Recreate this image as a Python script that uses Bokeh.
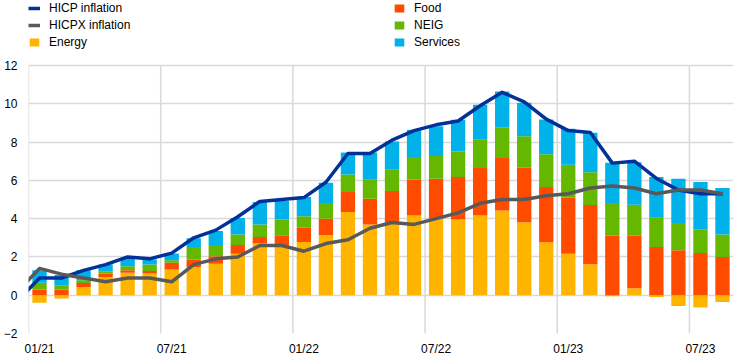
import numpy as np
from bokeh.plotting import figure
from bokeh.models import FixedTicker, Legend, LegendItem, Range1d
from bokeh.embed import file_html
from bokeh.resources import INLINE

months = ["01/21", "02/21", "03/21", "04/21", "05/21", "06/21", "07/21", "08/21",
          "09/21", "10/21", "11/21", "12/21", "01/22", "02/22", "03/22", "04/22",
          "05/22", "06/22", "07/22", "08/22", "09/22", "10/22", "11/22", "12/22",
          "01/23", "02/23", "03/23", "04/23", "05/23", "06/23", "07/23", "08/23"]
tick_labels = ["01/21", "07/21", "01/22", "07/22", "01/23", "07/23"]
y_ticks = [-2, 0, 2, 4, 6, 8, 10, 12]

energy = [-0.40, -0.17, 0.43, 0.95, 1.17, 1.13, 1.34, 1.48, 1.64, 2.17, 2.70, 2.60,
          2.78, 3.13, 4.35, 3.69, 3.83, 4.17, 4.00, 3.95, 4.17, 4.43, 3.81, 2.77,
          2.17, 1.62, -0.05, 0.37, -0.09, -0.56, -0.64, -0.35]
food = [0.30, 0.30, 0.21, 0.18, 0.13, 0.14, 0.35, 0.38, 0.40, 0.45, 0.34, 0.53,
        0.75, 0.87, 1.04, 1.35, 1.61, 1.88, 2.09, 2.22, 2.47, 2.74, 2.85, 2.88,
        2.93, 3.09, 3.10, 2.73, 2.52, 2.35, 2.21, 2.00]
neig = [0.35, 0.22, 0.14, 0.12, 0.21, 0.33, 0.14, 0.66, 0.58, 0.55, 0.65, 0.82,
        0.59, 0.82, 0.92, 0.99, 1.12, 1.17, 1.18, 1.34, 1.48, 1.61, 1.65, 1.72,
        1.72, 1.72, 1.72, 1.63, 1.53, 1.42, 1.23, 1.17]
services = [0.65, 0.53, 0.52, 0.35, 0.45, 0.27, 0.35, 0.45, 0.74, 0.87, 1.18, 0.97,
            1.01, 1.06, 1.15, 1.43, 1.47, 1.42, 1.56, 1.66, 1.83, 1.86, 1.74, 1.81,
            1.88, 2.06, 2.10, 2.21, 2.12, 2.32, 2.47, 2.43]
hicp = [0.9, 0.9, 1.3, 1.6, 2.0, 1.9, 2.2, 3.0, 3.4, 4.1, 4.9, 5.0,
        5.1, 5.9, 7.4, 7.4, 8.1, 8.6, 8.9, 9.1, 9.9, 10.6, 10.1, 9.2,
        8.6, 8.5, 6.9, 7.0, 6.1, 5.5, 5.3, 5.3]
hicpx = [1.4, 1.1, 0.9, 0.7, 0.9, 0.9, 0.7, 1.6, 1.9, 2.0, 2.6, 2.6,
         2.3, 2.7, 2.9, 3.5, 3.8, 3.7, 4.0, 4.3, 4.8, 5.0, 5.0, 5.2,
         5.3, 5.6, 5.7, 5.6, 5.3, 5.5, 5.5, 5.3]
# previous month (12/20), drawn only as the line entering the plot from the left edge
hicp_dec20 = -0.3
hicpx_dec20 = 0.2

FONT = "Liberation Sans"
n = len(months)
x = np.arange(n)

# layout (pixels): legend area above the gridded region, inside the frame
W, H = 744, 360
BORDER_LEFT, BORDER_RIGHT, BORDER_BOTTOM = 28, 11, 27
LEGEND_PX = 65
GRID_PX = H - BORDER_BOTTOM - LEGEND_PX
y_lo, y_hi = y_ticks[0], y_ticks[-1]
y_top = y_hi + (y_hi - y_lo) * LEGEND_PX / GRID_PX

p = figure(width=W, height=H,
           x_range=Range1d(-0.5, n - 0.5), y_range=Range1d(y_lo, y_top),
           output_backend="svg", toolbar_location=None,
           min_border_top=0, min_border_bottom=BORDER_BOTTOM,
           min_border_left=BORDER_LEFT, min_border_right=BORDER_RIGHT)
p.outline_line_color = None
p.background_fill_color = "white"
p.border_fill_color = "white"

GRID_COLOR = "#D9D9D9"
tick_idx = [months.index(t) for t in tick_labels]
# vertical grid lines at the half-year boundaries, spanning only the gridded value range
bounds = [i - 0.5 for i in tick_idx]
p.segment(x0=bounds, x1=bounds, y0=[y_lo] * len(bounds), y1=[y_hi] * len(bounds),
          line_color=GRID_COLOR, line_width=1.5, level="underlay")
p.xgrid.visible = False

comps = [("Energy", energy, "#FFB400"), ("Food", food, "#FF4B00"),
         ("NEIG", neig, "#65B800"), ("Services", services, "#00B1EA")]
pos = np.zeros(n)
neg = np.zeros(n)
bar_items = []
for name, vals, col in comps:
    v = np.array(vals, dtype=float)
    bottom = np.where(v >= 0, pos, neg + v)
    top = np.where(v >= 0, pos + v, neg)
    pos = np.where(v >= 0, pos + v, pos)
    neg = np.where(v < 0, neg + v, neg)
    r = p.vbar(x=x, bottom=bottom, top=top, width=0.65, fill_color=col, line_color=None)
    bar_items.append((name, r))

xl = np.arange(-1, n)
r_hicp = p.line(xl, [hicp_dec20] + hicp, line_color="#003299", line_width=3.5, line_join="round")
r_hicpx = p.line(xl, [hicpx_dec20] + hicpx, line_color="#595959", line_width=3.5, line_join="round")

p.xaxis.ticker = FixedTicker(ticks=tick_idx)
p.xaxis.major_label_overrides = {i: months[i] for i in tick_idx}
p.yaxis.ticker = FixedTicker(ticks=y_ticks)

for ax in (p.xaxis, p.yaxis):
    ax.axis_line_color = None
    ax.major_tick_line_color = None
    ax.minor_tick_line_color = None
    ax.major_tick_out = 0
    ax.major_tick_in = 0
    ax.major_label_text_font = FONT
    ax.major_label_text_font_size = "12px"
    ax.major_label_text_color = "#000000"
p.xaxis.major_label_standoff = 8
p.yaxis.major_label_standoff = 11

p.ygrid.grid_line_color = GRID_COLOR
p.ygrid.grid_line_width = 1.5

items = [LegendItem(label="HICP inflation", renderers=[r_hicp]),
         LegendItem(label="HICPX inflation", renderers=[r_hicpx]),
         LegendItem(label="Energy", renderers=[bar_items[0][1]]),
         LegendItem(label="Food", renderers=[bar_items[1][1]]),
         LegendItem(label="NEIG", renderers=[bar_items[2][1]]),
         LegendItem(label="Services", renderers=[bar_items[3][1]])]
legend = Legend(items=items, orientation="vertical", nrows=3,
                location="top_left",
                glyph_width=12, glyph_height=10, label_standoff=9,
                label_width=342, label_height=15, spacing=2,
                padding=0, margin=0, border_line_color=None,
                background_fill_alpha=0,
                label_text_font=FONT, label_text_font_size="12px",
                label_text_color="#000000")
p.add_layout(legend)

open("out.html", "w").write(file_html(p, INLINE))
